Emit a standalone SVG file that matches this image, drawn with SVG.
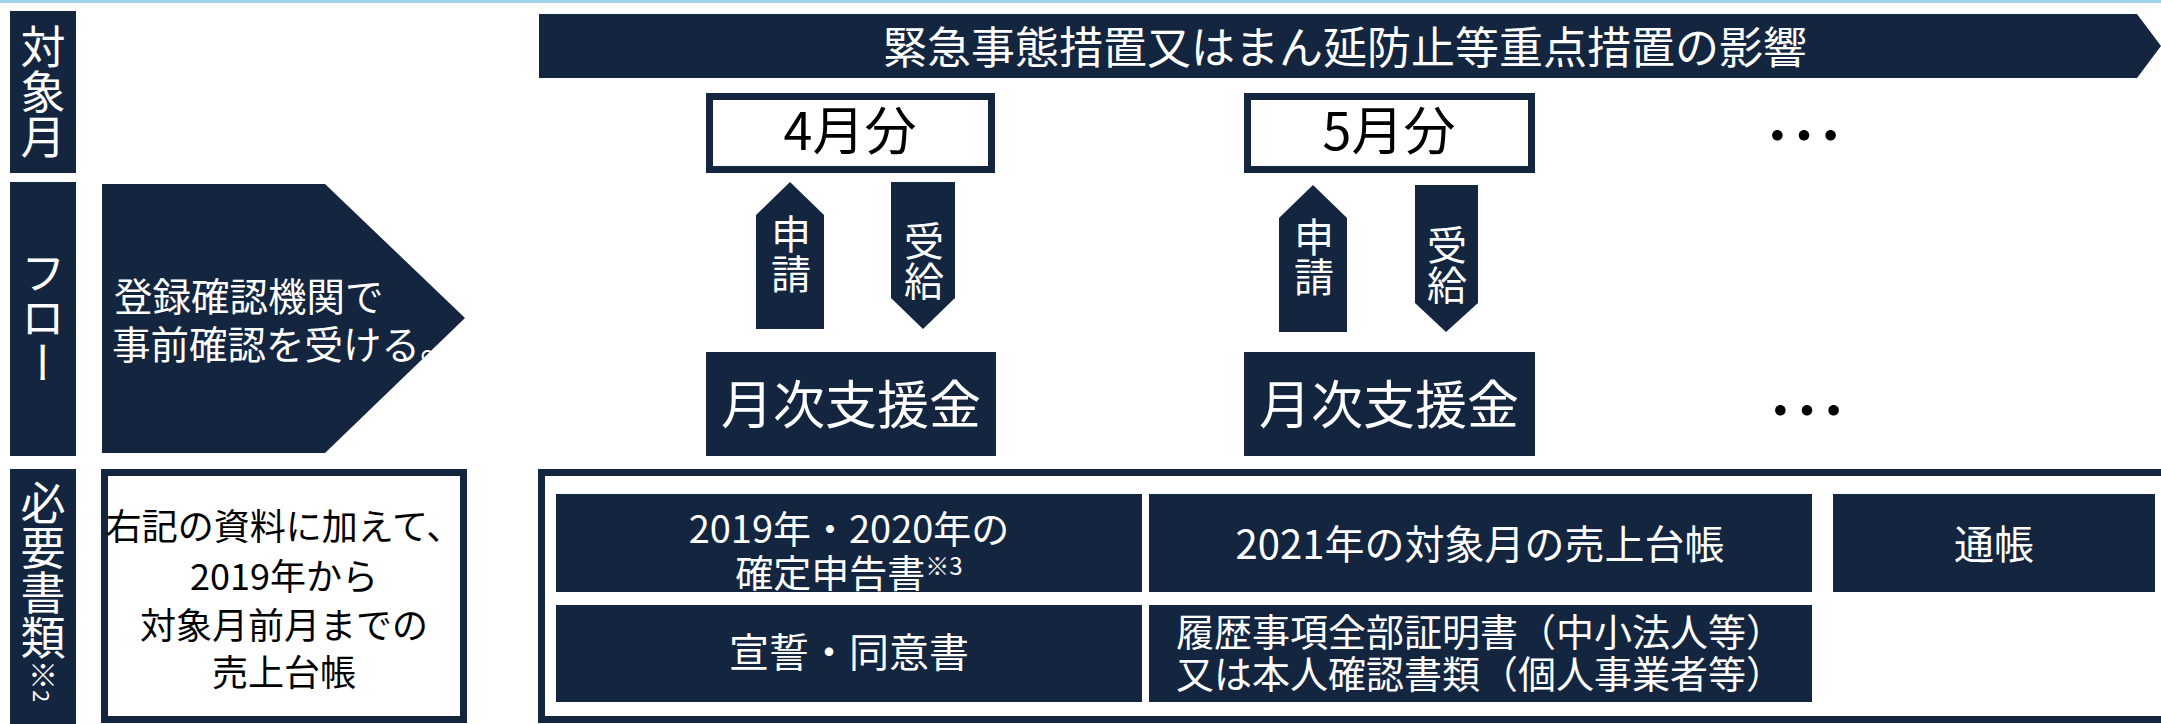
<svg xmlns="http://www.w3.org/2000/svg" width="2161" height="724" viewBox="0 0 2161 724">
<defs>
<style>
.nav{fill:#13253f}
.frame{fill:#ffffff;stroke:#13253f;stroke-width:7}
.t{font-family:"Noto Sans CJK JP","Noto Sans",sans-serif;font-weight:400}
.w{fill:#ffffff}
.b{fill:#000000}
.mid{text-anchor:middle}
.vert{writing-mode:vertical-rl;text-anchor:middle}
</style>
</defs>
<rect x="0" y="0" width="2161" height="724" fill="#ffffff"/>
<rect x="0" y="0" width="2161" height="3" fill="#9fd4ea"/>

<g id="label-taishou">
<rect class="nav" x="10" y="11" width="66" height="162"/>
<text class="t w vert" x="43" y="92" font-size="45">対象月</text>
</g>
<g id="label-flow">
<rect class="nav" x="10" y="182" width="66" height="274"/>
<text class="t w vert" x="43" y="318" font-size="45">フロー</text>
</g>
<g id="label-docs">
<rect class="nav" x="10" y="469" width="66" height="260"/>
<text class="t w" x="43" y="480" font-size="45" style="writing-mode:vertical-rl;text-anchor:start">必要書類<tspan font-size="30">※</tspan><tspan font-size="22">2</tspan></text>
</g>

<g id="banner">
<polygon class="nav" points="539,14 2137,14 2161,46 2137,78 539,78"/>
<text class="t w mid" x="1345" y="64" font-size="44">緊急事態措置又はまん延防止等重点措置の影響</text>
</g>

<g id="precheck">
<polygon class="nav" points="102,184 325,184 465,318 325,453 102,453"/>
<text class="t w" x="114" y="311" font-size="38.5">登録確認機関で</text>
<text class="t w" x="112" y="359" font-size="38.5">事前確認を受ける。</text>
</g>

<g id="month4">
<rect class="frame" x="709.5" y="96.5" width="282" height="73"/>
<text class="t b mid" x="850" y="150" font-size="52">4月分</text>
</g>
<g id="month5">
<rect class="frame" x="1247.5" y="96.5" width="284" height="73"/>
<text class="t b mid" x="1389" y="150" font-size="52">5月分</text>
</g>
<g id="dots1">
<text class="t b mid" x="1804" y="165" font-size="80">…</text>
</g>

<g id="support1">
<rect class="nav" x="706" y="352" width="290" height="104"/>
<text class="t w mid" x="851" y="424" font-size="52">月次支援金</text>
</g>
<g id="support2">
<rect class="nav" x="1244" y="352" width="291" height="104"/>
<text class="t w mid" x="1389" y="424" font-size="52">月次支援金</text>
</g>
<g id="dots2">
<text class="t b mid" x="1807" y="440" font-size="80">…</text>
</g>

<g id="connectors">
<g id="apply1">
<polygon class="nav" points="790,182 824,215 824,329 756,329 756,215"/>
<text class="t w vert" x="791" y="254" font-size="40">申請</text>
</g>
<g id="receive1">
<polygon class="nav" points="891,182 955,182 955,298 923,329 891,298"/>
<text class="t w vert" x="924" y="261" font-size="40">受給</text>
</g>
<g id="apply2">
<polygon class="nav" points="1313,185 1347,218 1347,332 1279,332 1279,218"/>
<text class="t w vert" x="1314" y="257" font-size="40">申請</text>
</g>
<g id="receive2">
<polygon class="nav" points="1415,185 1478,185 1478,303 1446,332 1415,303"/>
<text class="t w vert" x="1447" y="265" font-size="40">受給</text>
</g>
</g>

<g id="docs-note">
<rect class="frame" x="104.5" y="472.5" width="359" height="247"/>
<text class="t b mid" x="284" y="540" font-size="36">右記の資料に加えて、</text>
<text class="t b mid" x="284" y="590" font-size="36">2019年から</text>
<text class="t b mid" x="284" y="639" font-size="36">対象月前月までの</text>
<text class="t b mid" x="284" y="686" font-size="36">売上台帳</text>
</g>

<g id="docs-frame">
<rect class="frame" x="541.5" y="472.5" width="1630" height="247"/>
</g>
<g id="doc-tax">
<rect class="nav" x="556" y="494" width="586" height="98"/>
<text class="t w mid" x="849" y="543" font-size="38">2019年・2020年の</text>
<text class="t w mid" x="849" y="587" font-size="38">確定申告書<tspan font-size="24" dy="-12">※3</tspan></text>
</g>
<g id="doc-ledger">
<rect class="nav" x="1149" y="494" width="663" height="98"/>
<text class="t w mid" x="1480" y="559" font-size="40">2021年の対象月の売上台帳</text>
</g>
<g id="doc-passbook">
<rect class="nav" x="1833" y="494" width="322" height="98"/>
<text class="t w mid" x="1994" y="559" font-size="40">通帳</text>
</g>
<g id="doc-oath">
<rect class="nav" x="556" y="605" width="586" height="97"/>
<text class="t w mid" x="849" y="667" font-size="40">宣誓・同意書</text>
</g>
<g id="doc-registry">
<rect class="nav" x="1149" y="605" width="663" height="97"/>
<text class="t w mid" x="1480" y="646" font-size="38">履歴事項全部証明書（中小法人等）</text>
<text class="t w mid" x="1480" y="688" font-size="38">又は本人確認書類（個人事業者等）</text>
</g>
</svg>
